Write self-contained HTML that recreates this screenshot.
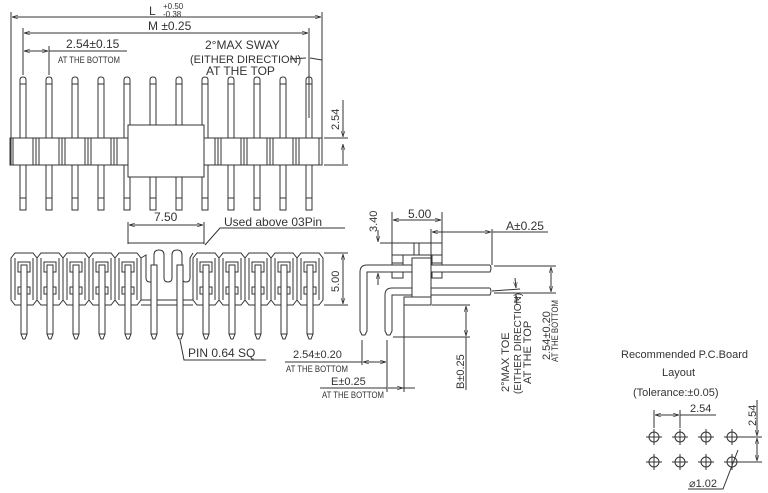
<!DOCTYPE html>
<html><head><meta charset="utf-8"><style>
html,body{margin:0;padding:0;background:#fff;width:768px;height:493px;overflow:hidden}
svg{display:block}
text{font-family:"Liberation Sans",sans-serif;fill:#333}
</style></head><body>
<svg width="768" height="493" viewBox="0 0 768 493" xmlns="http://www.w3.org/2000/svg">
<defs>
<marker id="a" viewBox="0 0 10 10" refX="10" refY="5" markerWidth="6" markerHeight="6" orient="auto-start-reverse"><path d="M0,2 L10,5 L0,8" fill="none" stroke="#333"/></marker>
<g id="tp">
<path d="M-3,84 L-3,80 Q-3,77 0,77 Q3,77 3,80 L3,84" fill="none"/>
<rect x="-3" y="84" width="6" height="114" fill="none"/>
<rect x="-3" y="198" width="6" height="12" fill="none"/>
</g>
<g id="blk"><rect x="-13" y="138" width="26" height="27" fill="#fff"/><line x1="-10" y1="138" x2="-10" y2="165"/><line x1="10" y1="138" x2="10" y2="165"/></g>
<g id="fc">
<path d="M-13,258 L-9,253 L9,253 L13,258 L13,300 L9,305 L-9,305 L-13,300 Z" fill="#fff"/>
<line x1="-9" y1="258" x2="-9" y2="300"/><line x1="9" y1="258" x2="9" y2="300"/>
<rect x="-6" y="262" width="12" height="10" fill="none"/>
<rect x="-6" y="287" width="12" height="7" fill="none"/>
</g>
<g id="fp"><path d="M-3,265 L-3,334 L-1,339 L1,339 L3,334 L3,265 Z" fill="#fff"/><line x1="-3" y1="334" x2="3" y2="334"/></g>
<g id="h"><circle cx="0" cy="0" r="5" fill="none"/><line x1="-8" y1="0" x2="8" y2="0"/><line x1="0" y1="-8" x2="0" y2="8"/></g>
</defs>
<g stroke="#333" stroke-width="1" fill="none">
<use href="#tp" x="23"/><use href="#tp" x="49"/><use href="#tp" x="75"/><use href="#tp" x="101"/><use href="#tp" x="127"/><use href="#tp" x="153"/><use href="#tp" x="179"/><use href="#tp" x="205"/><use href="#tp" x="231"/><use href="#tp" x="257"/><use href="#tp" x="283"/><use href="#tp" x="309"/>
<use href="#blk" x="23"/><use href="#blk" x="49"/><use href="#blk" x="75"/><use href="#blk" x="101"/><use href="#blk" x="127"/><use href="#blk" x="205"/><use href="#blk" x="231"/><use href="#blk" x="257"/><use href="#blk" x="283"/><use href="#blk" x="309"/>
<rect x="11" y="138" width="311" height="27"/>
<rect x="128" y="125" width="76" height="52" fill="#fff"/>
<line x1="11" y1="12" x2="11" y2="138"/><line x1="322" y1="12" x2="322" y2="138"/>
<line x1="12" y1="17" x2="321" y2="17" marker-start="url(#a)" marker-end="url(#a)"/>
<line x1="23" y1="28" x2="23" y2="75"/><line x1="309" y1="28" x2="309" y2="118"/>
<line x1="24" y1="33" x2="308" y2="33" marker-start="url(#a)" marker-end="url(#a)"/>
<line x1="49" y1="46" x2="49" y2="75"/>
<line x1="24" y1="51" x2="48" y2="51" marker-start="url(#a)" marker-end="url(#a)"/>
<line x1="49" y1="51" x2="127" y2="51"/>
<line x1="290" y1="59" x2="306" y2="58"/><line x1="310" y1="58" x2="322" y2="60"/>
<line x1="324" y1="138" x2="348" y2="138"/><line x1="324" y1="165" x2="348" y2="165"/>
<line x1="343" y1="100" x2="343" y2="137" marker-end="url(#a)"/>
<line x1="343" y1="144" x2="343" y2="164" marker-start="url(#a)"/>
<use href="#fc" x="24"/><use href="#fc" x="50"/><use href="#fc" x="76"/><use href="#fc" x="102"/><use href="#fc" x="128"/>
<use href="#fc" x="206"/><use href="#fc" x="232"/><use href="#fc" x="258"/><use href="#fc" x="284"/><use href="#fc" x="310"/>
<path d="M141,258 L146,255 L146,278 Q146,282 150,282 Q154,282 154,278 L154,255 Q154,250 159,250 Q164,250 164,255 L164,278 Q164,282 168,282 Q172,282 172,278 L172,255 Q172,250 177,250 Q182,250 182,255 L182,278 Q182,282 186,282 Q190,282 190,278 L190,258 L193,253" fill="#fff"/>
<line x1="141" y1="300" x2="193" y2="300"/><line x1="141" y1="305" x2="193" y2="305"/>
<use href="#fp" x="24"/><use href="#fp" x="50"/><use href="#fp" x="76"/><use href="#fp" x="102"/><use href="#fp" x="128"/><use href="#fp" x="154"/><use href="#fp" x="180"/><use href="#fp" x="206"/><use href="#fp" x="232"/><use href="#fp" x="258"/><use href="#fp" x="284"/><use href="#fp" x="310"/>
<line x1="128" y1="222" x2="128" y2="244"/><line x1="204" y1="222" x2="204" y2="244"/>
<line x1="129" y1="225" x2="203" y2="225" marker-start="url(#a)" marker-end="url(#a)"/>
<line x1="128" y1="243" x2="204" y2="243"/>
<polyline points="205,245 220,228 345,228"/>
<line x1="324" y1="253" x2="348" y2="253"/><line x1="324" y1="305" x2="348" y2="305"/>
<line x1="343" y1="254" x2="343" y2="304" marker-start="url(#a)" marker-end="url(#a)"/>
<polyline points="180,340 184,360 266,360"/>
<rect x="392" y="243" width="50" height="12"/>
<line x1="414" y1="243" x2="414" y2="255"/><line x1="419" y1="243" x2="419" y2="255"/>
<rect x="392" y="255" width="11" height="23"/><rect x="432" y="255" width="10" height="23"/>
<line x1="392" y1="263" x2="403" y2="263"/><line x1="432" y1="263" x2="442" y2="263"/>
<path d="M490,265 L367,265 Q360,265 360,272 L360,331 L362,335 L365,335 L367,331 L367,272 L490,272 Q492,268 490,265" fill="#fff"/>
<path d="M490,288 L392,288 Q385,288 385,295 L385,331 L387,335 L390,335 L392,331 L392,295 L490,295 Q492,291 490,288" fill="#fff"/>
<rect x="412" y="258" width="19" height="47" fill="#fff"/>
<rect x="404" y="297" width="27" height="8" fill="#fff"/>
<line x1="392" y1="212" x2="392" y2="243"/><line x1="442" y1="212" x2="442" y2="243"/>
<line x1="393" y1="220" x2="441" y2="220" marker-start="url(#a)" marker-end="url(#a)"/>
<line x1="380" y1="243" x2="392" y2="243"/><line x1="375" y1="272" x2="392" y2="272"/>
<line x1="378" y1="230" x2="378" y2="242" marker-end="url(#a)"/><line x1="378" y1="285" x2="378" y2="273" marker-end="url(#a)"/>
<line x1="431" y1="229" x2="431" y2="258"/><line x1="492" y1="229" x2="492" y2="265"/>
<line x1="432" y1="232" x2="491" y2="232" marker-start="url(#a)" marker-end="url(#a)"/>
<line x1="492" y1="232" x2="548" y2="232"/>
<line x1="494" y1="266" x2="556" y2="266"/><line x1="494" y1="293" x2="556" y2="293"/>
<line x1="551" y1="267" x2="551" y2="292" marker-start="url(#a)" marker-end="url(#a)"/>
<line x1="492" y1="291" x2="520" y2="289"/><line x1="515" y1="278" x2="516" y2="288" marker-end="url(#a)"/><line x1="517" y1="305" x2="516" y2="295" marker-end="url(#a)"/>
<line x1="432" y1="305" x2="470" y2="305"/><line x1="393" y1="337" x2="470" y2="337"/>
<line x1="466" y1="306" x2="466" y2="336" marker-start="url(#a)" marker-end="url(#a)"/>
<line x1="466" y1="337" x2="466" y2="390"/>
<line x1="362" y1="340" x2="362" y2="365"/><line x1="387" y1="340" x2="387" y2="392"/><line x1="404" y1="305" x2="404" y2="392"/>
<line x1="363" y1="362" x2="386" y2="362" marker-start="url(#a)" marker-end="url(#a)"/>
<line x1="285" y1="362" x2="362" y2="362"/>
<line x1="388" y1="388" x2="403" y2="388" marker-end="url(#a)"/><line x1="403" y1="388" x2="415" y2="388"/>
<line x1="320" y1="388" x2="387" y2="388"/>
<use href="#h" x="654" y="437"/><use href="#h" x="680" y="437"/><use href="#h" x="706" y="437"/><use href="#h" x="732" y="437"/>
<use href="#h" x="654" y="462"/><use href="#h" x="680" y="462"/><use href="#h" x="706" y="462"/><use href="#h" x="732" y="462"/>
<line x1="654" y1="410" x2="654" y2="428"/><line x1="680" y1="410" x2="680" y2="428"/>
<line x1="655" y1="415" x2="679" y2="415" marker-start="url(#a)" marker-end="url(#a)"/><line x1="680" y1="415" x2="716" y2="415"/>
<line x1="740" y1="437" x2="762" y2="437"/><line x1="740" y1="462" x2="762" y2="462"/>
<line x1="757" y1="400" x2="757" y2="436" marker-end="url(#a)"/><line x1="757" y1="438" x2="757" y2="461" marker-start="url(#a)" marker-end="url(#a)"/>
<polyline points="688,489 723,489 738,450"/>
</g>
<g font-size="11">
<text x="149" y="15" font-size="12">L</text><text x="163" y="9" font-size="8">+0.50</text><text x="163" y="17" font-size="8">-0.38</text>
<text x="148" y="30" font-size="12">M ±0.25</text>
<text x="66" y="48" font-size="12">2.54±0.15</text>
<text x="58" y="63" font-size="9" textLength="62" lengthAdjust="spacingAndGlyphs">AT THE BOTTOM</text>
<text x="205" y="49" font-size="12">2°MAX SWAY</text>
<text x="190" y="63" font-size="11">(EITHER DIRECTION)</text>
<text x="206" y="75" font-size="12">AT THE TOP</text>
<text transform="translate(339,130) rotate(-90)" font-size="11">2.54</text>
<text x="154" y="221" font-size="12">7.50</text>
<text x="224" y="226" font-size="12">Used above 03Pin</text>
<text transform="translate(339,292) rotate(-90)" font-size="11">5.00</text>
<text x="188" y="357" font-size="12">PIN 0.64 SQ</text>
<text x="293" y="358" font-size="11">2.54±0.20</text>
<text x="286" y="372" font-size="9" textLength="62" lengthAdjust="spacingAndGlyphs">AT THE BOTTOM</text>
<text x="331" y="385" font-size="11">E±0.25</text>
<text x="322" y="398" font-size="9" textLength="62" lengthAdjust="spacingAndGlyphs">AT THE BOTTOM</text>
<text x="408" y="218" font-size="12">5.00</text>
<text transform="translate(377,232) rotate(-90)" font-size="11">3.40</text>
<text x="506" y="230" font-size="12">A±0.25</text>
<text transform="translate(464,389) rotate(-90)" font-size="11">B±0.25</text>
<text transform="translate(509,392) rotate(-90)" font-size="11">2°MAX TOE</text>
<text transform="translate(521,394) rotate(-90)" font-size="10">(EITHER DIRECTION)</text>
<text transform="translate(531,384) rotate(-90)" font-size="11">AT THE TOP</text>
<text transform="translate(550,360) rotate(-90)" font-size="11">2.54±0.20</text>
<text transform="translate(558,362) rotate(-90)" font-size="9" textLength="62" lengthAdjust="spacingAndGlyphs">AT THE BOTTOM</text>
<text x="621" y="358" font-size="11">Recommended P.C.Board</text>
<text x="662" y="376" font-size="11">Layout</text>
<text x="633" y="396" font-size="11">(Tolerance:±0.05)</text>
<text x="690" y="412" font-size="11">2.54</text>
<text transform="translate(756,426) rotate(-90)" font-size="11">2.54</text>
<text x="689" y="487" font-size="11">⌀1.02</text>
</g>
</svg>
</body></html>
